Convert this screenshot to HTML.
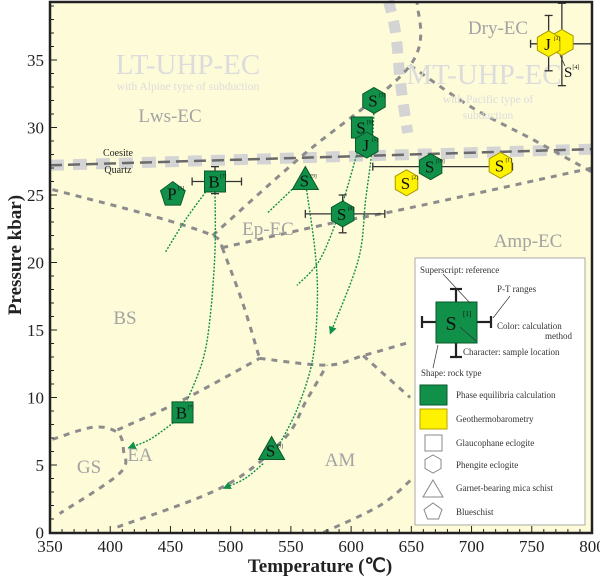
<!DOCTYPE html>
<html><head><meta charset="utf-8"><style>
body{margin:0;background:#fff;}
svg{display:block;font-family:"Liberation Serif",serif;}
</style></head><body>
<svg id="chart" width="600" height="581" viewBox="0 0 600 581">
<defs>
<marker id="arr" markerWidth="8" markerHeight="8" refX="6" refY="4" orient="auto" markerUnits="userSpaceOnUse">
<path d="M0,0 L8,4 L0,8 Z" fill="#109048"/>
</marker>
</defs>
<rect x="50" y="2" width="542" height="531" fill="#fefbd8"/>
<g id="bg"></g>
<g id="facies"></g>
<g id="labels" fill="#a3a3a3" text-anchor="middle">
<text x="188" y="74" font-size="29" fill="#dcdcdc">LT-UHP-EC</text>
<text x="188" y="90" font-size="11.5" fill="#dcdcdc">with Alpine type of subduction</text>
<text x="170" y="122" font-size="19">Lws-EC</text>
<text x="484" y="84" font-size="29" fill="#dcdcdc">MT-UHP-EC</text>
<text x="488" y="103" font-size="11.5" fill="#dcdcdc">with Pacific type of</text>
<text x="488" y="119" font-size="11.5" fill="#dcdcdc">subduction</text>
<text x="498" y="34" font-size="19">Dry-EC</text>
<text x="268" y="235" font-size="19">Ep-EC</text>
<text x="528" y="247" font-size="19">Amp-EC</text>
<text x="125" y="324" font-size="19">BS</text>
<text x="140" y="461" font-size="19">EA</text>
<text x="89" y="473" font-size="19">GS</text>
<text x="340" y="466" font-size="19">AM</text>
<text x="118" y="156" font-size="10" fill="#222">Coesite</text>
<text x="118" y="173" font-size="10" fill="#222">Quartz</text>
</g>
<g id="paths"></g>
<g id="errs"></g>
<g id="marks"></g>
<text x="564" y="77" font-size="15" fill="#111">S<tspan font-size="6" dy="-8">[4]</tspan></text>
<line x1="560" y1="55" x2="565" y2="66" stroke="#333" stroke-width="0.8"/>

<g id="legend">
<rect x="415" y="258" width="170" height="267" fill="#fff" stroke="#aaa" stroke-width="1"/>
<g font-size="9" fill="#333">
<text x="420" y="273">Superscript: reference</text>
<g stroke="#222" stroke-width="2.2">
<line x1="456" y1="289" x2="456" y2="303"/><line x1="450" y1="289" x2="462" y2="289"/>
<line x1="456" y1="343" x2="456" y2="357"/><line x1="450" y1="357" x2="462" y2="357"/>
<line x1="422" y1="322" x2="436" y2="322"/><line x1="422" y1="316" x2="422" y2="328"/>
<line x1="476" y1="322" x2="491" y2="322"/><line x1="491" y1="316" x2="491" y2="328"/>
</g>
<rect x="436" y="302" width="41" height="41" fill="#109048" stroke="#0a5a2a"/>
<text x="451" y="330" font-size="20" fill="#111" text-anchor="middle">S</text>
<text x="463" y="316" font-size="7" fill="#111">[1]</text>
<g stroke="#333" stroke-width="0.7">
<line x1="443" y1="274" x2="470" y2="303"/><line x1="510" y1="296" x2="493" y2="318"/>
<line x1="476" y1="341" x2="460" y2="327"/><line x1="438" y1="345" x2="433" y2="368"/>
</g>
<text x="497" y="292">P-T ranges</text>
<text x="497" y="329">Color: calculation</text>
<text x="545" y="339">method</text>
<text x="463" y="355">Character: sample location</text>
<text x="421" y="376">Shape: rock type</text>
<rect x="420" y="385" width="27" height="20" fill="#109048" stroke="#0a5a2a"/>
<text x="456" y="398">Phase equilibria calculation</text>
<rect x="420" y="409" width="27" height="20" fill="#fff200" stroke="#b5a600"/>
<text x="456" y="422">Geothermobarometry</text>
<rect x="425" y="435" width="17" height="16" fill="none" stroke="#888"/>
<text x="456" y="446">Glaucophane eclogite</text>
<polygon points="433,455 441,459.5 441,468.5 433,473 425,468.5 425,459.5" fill="none" stroke="#888"/>
<text x="456" y="468">Phengite eclogite</text>
<polygon points="433,480 443,497 423,497" fill="none" stroke="#888"/>
<text x="456" y="491">Garnet-bearing mica schist</text>
<polygon points="433,503 442,509.5 438.5,519 427.5,519 424,509.5" fill="none" stroke="#888"/>
<text x="456" y="515">Blueschist</text>
</g>
</g>

<rect x="50" y="2" width="542" height="531" fill="none" stroke="#222" stroke-width="2.5"/>
<g id="axes" font-size="17" fill="#222"></g>
<text x="320" y="572" font-size="19" font-weight="bold" text-anchor="middle" fill="#222">Temperature (℃)</text>
<text transform="translate(21,255) rotate(-90)" font-size="19" font-weight="bold" text-anchor="middle" fill="#222">Pressure kbar)</text>
</svg>
<script>
// ---- data ----
const xTickLabels = [350,400,450,500,550,600,650,700,750,800];
const yTickLabels = [0,5,10,15,20,25,30,35];
const coesiteT = [350, 800];
const coesiteP = [27.2, 28.4];
const bandT = [631, 637, 641, 647];
const bandP = [39.4, 37.0, 33.3, 29.6];
const boundA_T = [352, 433, 485, 493]; const boundA_P = [25.4, 23.5, 22.0, 21.1];
const boundB_T = [485, 558, 649, 655]; const boundB_P = [22.0, 27.8, 34.6, 39.3];
const boundC_T = [649, 700, 751, 800]; const boundC_P = [34.6, 31.5, 29.1, 26.7];
const boundD_T = [493, 583, 641, 800]; const boundD_P = [21.1, 22.9, 23.9, 27.0];
const boundE_T = [493, 510, 524]; const boundE_P = [21.1, 17.0, 12.9];
const boundF_T = [524, 580, 610, 649]; const boundF_P = [12.9, 12.4, 13.1, 14.1];
const boundF2_T = [610, 649]; const boundF2_P = [13.1, 10.0];
const boundH_T = [406, 460, 524]; const boundH_P = [7.6, 9.8, 12.9];
const boundGS_T = [352, 386, 406, 411, 408, 358]; const boundGS_P = [6.9, 7.8, 7.4, 6.1, 4.4, 1.4];
const boundG_T = [406, 494, 544, 563, 580]; const boundG_P = [0.4, 3.4, 6.9, 9.8, 12.4];
const boundJ_T = [577, 624, 651]; const boundJ_P = [0, 2, 4.0];

const path1T = [446, 462, 479]; const path1P = [20.8, 23.1, 25.2];
const path2T = [487, 487, 483, 477, 464]; const path2P = [25.4, 20.9, 16.0, 12.8, 9.8];
const path3T = [455, 433, 416]; const path3P = [8.3, 6.9, 6.3];
const path4T = [563, 570, 572, 568, 555, 539]; const path4P = [25.4, 20.9, 17.2, 12.8, 9.1, 6.3];
const path5T = [527, 512, 495]; const path5P = [5.1, 4.0, 3.3];
const path6T = [531, 552]; const path6P = [23.7, 25.5];
const path7T = [609, 605, 591, 574, 555]; const path7P = [29.4, 28.1, 23.9, 20.2, 18.3];
const path8T = [619, 617, 612, 606, 583]; const path8P = [31.3, 28.1, 24.6, 20.2, 14.8];

const sampleT = [452, 487, 562, 593, 619, 609, 613, 666, 646, 724, 775, 764, 460, 534];
const sampleP = [25.1, 26.0, 26.0, 23.6, 32.0, 30.0, 28.7, 27.1, 25.9, 27.2, 36.3, 36.2, 8.9, 6.0];
const sampleShape = ['pent','sq','tri','hex','hex','sq','hex','hex','hex','hex','hex','hex','sq','tri'];
const sampleColor = ['g','g','g','g','g','g','g','g','y','y','y','y','g','g'];
const sampleLabel = ['P','B','S','S','S','S','J','S','S','S','','J','B','S'];
const sampleSup = ['[1]','[7]','[9]','[8]','[3]','[6]','[5]','[10]','[2]','[1]','','[3]','[7]','[9]'];
const errTlo = [null, 468, null, 562, null, null, null, 618, null, null, null, 749, null, null];
const errThi = [null, 509, null, 628, null, null, null, 734, null, null, null, 800, null, null];
const errPlo = [null, 25.1, null, 22.2, null, null, null, 26.7, null, null, 33.1, 34.2, null, null];
const errPhi = [null, 27.1, null, 25.0, null, null, null, 27.6, null, null, 39.2, 38.3, null, null];

// ---- axes ----
const X = t => 50 + (t - 350) * 1.2044;
const Y = p => 532.5 - p * 13.5;
const NS = 'http://www.w3.org/2000/svg';
function mk(tag, attrs, parent) {
  const e = document.createElementNS(NS, tag);
  for (const k in attrs) e.setAttribute(k, attrs[k]);
  parent.appendChild(e); return e;
}
function smooth(ts, ps) {
  const pts = ts.map((t, i) => [X(t), Y(ps[i])]);
  if (pts.length < 3) return 'M' + pts.map(p => p.join(',')).join(' L');
  let d = 'M' + pts[0].join(',');
  for (let i = 0; i < pts.length - 1; i++) {
    const p0 = pts[Math.max(0, i - 1)], p1 = pts[i], p2 = pts[i + 1], p3 = pts[Math.min(pts.length - 1, i + 2)];
    const c1 = [p1[0] + (p2[0] - p0[0]) / 6, p1[1] + (p2[1] - p0[1]) / 6];
    const c2 = [p2[0] - (p3[0] - p1[0]) / 6, p2[1] - (p3[1] - p1[1]) / 6];
    d += ' C' + c1.join(',') + ' ' + c2.join(',') + ' ' + p2.join(',');
  }
  return d;
}
const bg = document.getElementById('bg');
let el = mk('path', {d: smooth(coesiteT, coesiteP), stroke: '#d4d4d4', 'stroke-width': 11, 'stroke-dasharray': '14 9', fill: 'none'}, bg);


el = mk('path', {d: smooth(coesiteT, coesiteP), stroke: '#6a6a6a', 'stroke-width': 2.5, 'stroke-dasharray': '12 6', fill: 'none'}, bg);


el = mk('path', {d: smooth(bandT, bandP), stroke: '#d4d4d4', 'stroke-width': 11, 'stroke-dasharray': '12 9', fill: 'none'}, bg);



const fac = document.getElementById('facies');
const bounds = [[boundA_T,boundA_P],[boundB_T,boundB_P],[boundC_T,boundC_P],[boundD_T,boundD_P],[boundE_T,boundE_P],[boundF_T,boundF_P],[boundF2_T,boundF2_P],[boundH_T,boundH_P],[boundGS_T,boundGS_P],[boundG_T,boundG_P],[boundJ_T,boundJ_P]];
bounds.forEach(b => {
  const e = mk('path', {d: smooth(b[0], b[1]), stroke: '#8c8c8c', 'stroke-width': 3, 'stroke-dasharray': '6 6', fill: 'none'}, fac);
  
  
});

const pg = document.getElementById('paths');
const paths = [[path1T,path1P,0],[path2T,path2P,0],[path3T,path3P,1],[path4T,path4P,0],[path5T,path5P,1],[path6T,path6P,0],[path7T,path7P,0],[path8T,path8P,1]];
paths.forEach(p => {
  const a = {d: smooth(p[0], p[1]), stroke: '#109048', 'stroke-width': 1.4, 'stroke-dasharray': '2 1.5', fill: 'none'};
  if (p[2]) a['marker-end'] = 'url(#arr)';
  const e = mk('path', a, pg);
  
  
});

const eg = document.getElementById('errs');
sampleT.forEach((t, i) => {
  const cx = X(t), cy = Y(sampleP[i]);
  if (errTlo[i] !== null) {
    let e = mk('line', {x1: X(errTlo[i]), x2: X(errThi[i]), y1: cy, y2: cy, stroke: '#333', 'stroke-width': 1.3}, eg);
    
    
    mk('line', {x1: X(errTlo[i]), x2: X(errTlo[i]), y1: cy - 4, y2: cy + 4, stroke: '#333', 'stroke-width': 1.3}, eg);
    mk('line', {x1: X(errThi[i]), x2: X(errThi[i]), y1: cy - 4, y2: cy + 4, stroke: '#333', 'stroke-width': 1.3}, eg);
  }
  if (errPlo[i] !== null) {
    let e = mk('line', {x1: cx, x2: cx, y1: Y(errPlo[i]), y2: Y(errPhi[i]), stroke: '#333', 'stroke-width': 1.3}, eg);
    
    
    mk('line', {x1: cx - 4, x2: cx + 4, y1: Y(errPlo[i]), y2: Y(errPlo[i]), stroke: '#333', 'stroke-width': 1.3}, eg);
    mk('line', {x1: cx - 4, x2: cx + 4, y1: Y(errPhi[i]), y2: Y(errPhi[i]), stroke: '#333', 'stroke-width': 1.3}, eg);
  }
});

const mg = document.getElementById('marks');
sampleT.forEach((t, i) => {
  const cx = X(t), cy = Y(sampleP[i]);
  const fill = sampleColor[i] === 'g' ? '#109048' : '#fff200';
  const stroke = sampleColor[i] === 'g' ? '#0a5a2a' : '#a89a00';
  const g = mk('g', {}, mg);
  
  
  let pts = [];
  const s = sampleShape[i];
  if (s === 'hex') { for (let k = 0; k < 6; k++) { const a = Math.PI / 3 * k - Math.PI / 2; pts.push([cx + 13 * Math.cos(a), cy + 13 * Math.sin(a)]); } }
  else if (s === 'pent') { for (let k = 0; k < 5; k++) { const a = 2 * Math.PI / 5 * k - Math.PI / 2; pts.push([cx + 13 * Math.cos(a), cy + 1 + 13 * Math.sin(a)]); } }
  else if (s === 'tri') { pts = [[cx, cy - 15], [cx + 13, cy + 8], [cx - 13, cy + 8]]; }
  else { pts = [[cx - 10.5, cy - 10.5], [cx + 10.5, cy - 10.5], [cx + 10.5, cy + 10.5], [cx - 10.5, cy + 10.5]]; }
  mk('polygon', {points: pts.map(p => p.join(',')).join(' '), fill: fill, stroke: stroke, 'stroke-width': 1}, g);
  if (sampleLabel[i]) {
    const tx = mk('text', {x: cx - 1, y: cy + (s === 'tri' ? 5 : 6), 'font-size': 17, fill: '#111', 'text-anchor': 'middle'}, g);
    tx.textContent = sampleLabel[i];
    const sp = mk('text', {x: cx + 5, y: cy - 4, 'font-size': 5.5, fill: '#111'}, g);
    sp.textContent = sampleSup[i];
  }
});

const ax = document.getElementById('axes');
for (let t = 350; t <= 800; t += 10) {
  const major = (t % 50 === 0);
  mk('line', {x1: X(t), x2: X(t), y1: 533, y2: 533 - (major ? 7 : 4), stroke: '#222', 'stroke-width': 1}, ax);
}
for (let p = 0; p <= 39; p += 1) {
  const major = (p % 5 === 0);
  mk('line', {x1: 50, x2: 50 + (major ? 7 : 4), y1: Y(p), y2: Y(p), stroke: '#222', 'stroke-width': 1}, ax);
}
xTickLabels.forEach(v => {
  const e = mk('text', {x: X(v), y: 552, 'text-anchor': 'middle'}, ax);
  e.textContent = v;
  
  
});
yTickLabels.forEach(v => {
  const e = mk('text', {x: 44, y: Y(v) + 6, 'text-anchor': 'end'}, ax);
  e.textContent = v;
  
  
});
</script>
</body></html>
